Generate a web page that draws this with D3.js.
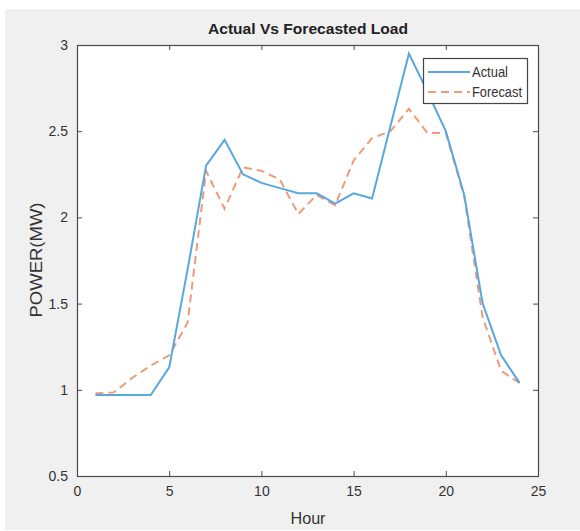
<!DOCTYPE html>
<html>
<head>
<meta charset="utf-8">
<script src="https://cdn.jsdelivr.net/npm/d3@7"></script>
<style>
  body { margin: 0; background: #fff; }
  svg { display: block; font-family: "Liberation Sans", Arial, sans-serif; }
</style>
</head>
<body>
<div id="chart"></div>
<script>
// hourly values
const hours = d3.range(1, 25);
const actual = [0.97, 0.97, 0.97, 0.97, 1.13, 1.70, 2.30, 2.45, 2.25, 2.20, 2.17, 2.14,
	2.14, 2.08, 2.14, 2.11, 2.53, 2.95, 2.73, 2.50, 2.13, 1.50, 1.20, 1.04];
const forecast = [0.98, 0.985, 1.07, 1.14, 1.20, 1.39, 2.27, 2.05, 2.29, 2.27, 2.22, 2.02,
	2.13, 2.07, 2.33, 2.46, 2.50, 2.63, 2.49, 2.49, 2.12, 1.42, 1.11, 1.04];
const xTicks = [0, 5, 10, 15, 20, 25];
const yTicks = [0.5, 1, 1.5, 2, 2.5, 3];
const seriesNames = ["Actual", "Forecast"];

const width = 580;
const height = 531;
const plot = {left: 77, right: 538, top: 45, bottom: 476};

var svg = d3.select("#chart")
	.append("svg")
	.attr("width", width)
	.attr("height", height);

// gray figure background
svg.append("rect")
	.attr("x", 5).attr("y", 9)
	.attr("width", width - 5).attr("height", 521)
	.attr("fill", "#f0f0f0");

svg.append("rect")
	.attr("x", plot.left).attr("y", plot.top)
	.attr("width", plot.right - plot.left).attr("height", plot.bottom - plot.top)
	.attr("fill", "#fff");

var x = d3.scaleLinear().domain([0, 25]).range([plot.left, plot.right]);
var y = d3.scaleLinear().domain([0.5, 3]).range([plot.bottom, plot.top]);

var axisColor = "#4a4a4a";

function styleAxis(g) {
	g.select(".domain").remove();
	g.selectAll(".tick line").attr("stroke", axisColor);
	g.selectAll(".tick text").attr("fill", "#333").attr("font-size", 14);
}

svg.append("g")
	.attr("transform", `translate(0,${plot.bottom})`)
	.call(d3.axisBottom(x).tickValues(xTicks).tickSize(-5).tickPadding(10))
	.call(styleAxis);

svg.append("g")
	.attr("transform", `translate(0,${plot.top})`)
	.call(d3.axisTop(x).tickValues(xTicks).tickSize(-5).tickFormat(""))
	.call(styleAxis);

svg.append("g")
	.attr("transform", `translate(${plot.left},0)`)
	.call(d3.axisLeft(y).tickValues(yTicks).tickSize(-5).tickPadding(9).tickFormat(d3.format("")))
	.call(styleAxis);

svg.append("g")
	.attr("transform", `translate(${plot.right},0)`)
	.call(d3.axisRight(y).tickValues(yTicks).tickSize(-5).tickFormat(""))
	.call(styleAxis);

// box
svg.append("rect")
	.attr("x", plot.left + 0.5).attr("y", plot.top + 0.5)
	.attr("width", plot.right - plot.left).attr("height", plot.bottom - plot.top)
	.attr("fill", "none")
	.attr("stroke", axisColor)
	.attr("stroke-width", 1.2);

var line = d3.line()
	.x((d, i) => x(hours[i]))
	.y((d) => y(d));

svg.append("path")
	.datum(forecast)
	.attr("d", line)
	.attr("fill", "none")
	.attr("stroke", "#ef9a78")
	.attr("stroke-width", 2)
	.attr("stroke-dasharray", "8,5");

svg.append("path")
	.datum(actual)
	.attr("d", line)
	.attr("fill", "none")
	.attr("stroke", "#58a8dd")
	.attr("stroke-width", 2);

// legend
var legend = svg.append("g").attr("transform", "translate(423,58)");
legend.append("rect")
	.attr("x", 0.5).attr("y", 0.5)
	.attr("width", 104).attr("height", 45)
	.attr("fill", "#fff")
	.attr("stroke", "#444")
	.attr("stroke-width", 1.2);

var styles = [
	{color: "#58a8dd", dash: null},
	{color: "#ef9a78", dash: "8,5"}
];

seriesNames.forEach((name, i) => {
	var yy = 14 + i * 20;
	legend.append("line")
		.attr("x1", 5).attr("x2", 47)
		.attr("y1", yy).attr("y2", yy)
		.attr("stroke", styles[i].color)
		.attr("stroke-width", 2)
		.attr("stroke-dasharray", styles[i].dash);
	legend.append("text")
		.attr("x", 49).attr("y", yy + 5)
		.attr("font-size", 14)
		.attr("fill", "#333")
		.attr("textLength", i === 0 ? 36 : 50)
		.attr("lengthAdjust", "spacingAndGlyphs")
		.text(name);
});

// title and labels
svg.append("text")
	.attr("x", 308).attr("y", 34)
	.attr("text-anchor", "middle")
	.attr("font-size", 15)
	.attr("font-weight", "bold")
	.attr("fill", "#222")
	.attr("textLength", 200)
	.attr("lengthAdjust", "spacingAndGlyphs")
	.text("Actual Vs Forecasted Load");

svg.append("text")
	.attr("x", 308).attr("y", 524)
	.attr("text-anchor", "middle")
	.attr("font-size", 16)
	.attr("fill", "#333")
	.attr("textLength", 35)
	.attr("lengthAdjust", "spacingAndGlyphs")
	.text("Hour");

svg.append("text")
	.attr("transform", "translate(42,260) rotate(-90)")
	.attr("text-anchor", "middle")
	.attr("font-size", 16)
	.attr("fill", "#333")
	.attr("textLength", 115)
	.attr("lengthAdjust", "spacingAndGlyphs")
	.text("POWER(MW)");
</script>
</body>
</html>
